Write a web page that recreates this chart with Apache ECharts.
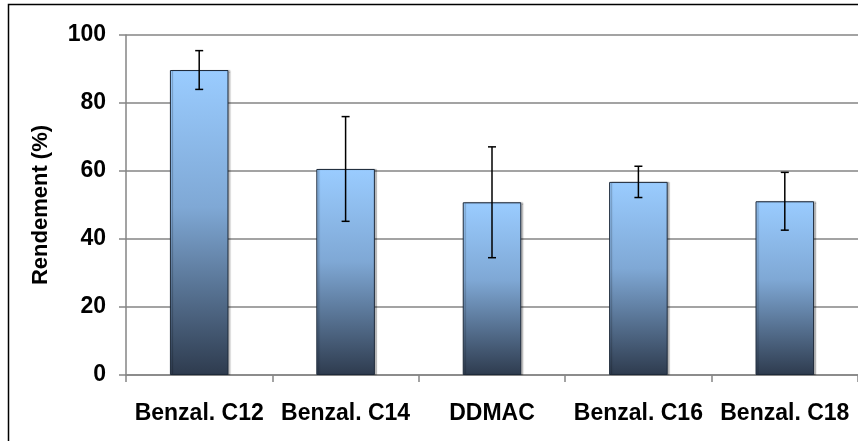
<!DOCTYPE html>
<html>
<head>
<meta charset="utf-8">
<script src="https://cdn.jsdelivr.net/npm/echarts@6/dist/echarts.min.js"></script>
<style>
  html, body { margin: 0; padding: 0; background: #fff; }
  #chart { width: 858px; height: 441px; }
</style>
</head>
<body>
<div id="chart"></div>
<script>
// Données
const categories = ['Benzal. C12', 'Benzal. C14', 'DDMAC', 'Benzal. C16', 'Benzal. C18'];
const rendement  = [89.7, 60.6, 50.8, 56.8, 51.1];
const ecart      = [5.7, 15.4, 16.3, 4.6, 8.5];
const yTicks     = [0, 20, 40, 60, 80, 100];

const FONT = '"Liberation Sans", Arial, sans-serif';
const GREY = '#858585';

const chart = echarts.init(document.getElementById('chart'), null, { renderer: 'canvas' });

// barres d'erreur : ligne verticale + deux chapeaux
function renderErrorBar(params, api) {
  const idx  = api.value(0);
  const top  = api.coord([idx, api.value(1) + api.value(2)]);
  const bot  = api.coord([idx, api.value(1) - api.value(2)]);
  const half = 4;
  const style = { stroke: '#000', lineWidth: 1.5 };
  return {
    type: 'group',
    children: [
      { type: 'line', shape: { x1: top[0], y1: top[1], x2: bot[0], y2: bot[1] }, style },
      { type: 'line', shape: { x1: top[0] - half, y1: top[1], x2: top[0] + half, y2: top[1] }, style },
      { type: 'line', shape: { x1: bot[0] - half, y1: bot[1], x2: bot[0] + half, y2: bot[1] }, style },
    ],
  };
}

chart.setOption({
  backgroundColor: '#fff',
  animation: false,
  textStyle: { fontFamily: FONT },
  graphic: [{
    type: 'rect',
    shape: { x: 8.5, y: 4.5, width: 900, height: 500 },
    style: { fill: 'none', stroke: '#000', lineWidth: 1.5 },
    silent: true,
  }],
  grid: { left: 126, top: 35, width: 733.5, bottom: 66 },
  xAxis: {
    type: 'category',
    data: categories,
    axisLine: { lineStyle: { color: GREY, width: 1.5 } },
    axisTick: { show: true, length: 7, lineStyle: { color: GREY, width: 1.5 } },
    axisLabel: {
      color: '#000', fontSize: 23, fontWeight: 'bold', fontFamily: FONT,
      margin: 27, interval: 0,
    },
  },
  yAxis: {
    type: 'value',
    min: 0, max: yTicks[yTicks.length - 1], interval: 20,
    name: 'Rendement (%)',
    nameLocation: 'middle',
    nameGap: 74,
    nameTextStyle: { color: '#000', fontSize: 22, fontWeight: 'bold', fontFamily: FONT },
    axisLine: { show: true, lineStyle: { color: GREY, width: 1.5 } },
    axisTick: { show: true, length: 7, lineStyle: { color: GREY, width: 1.5 } },
    axisLabel: {
      color: '#000', fontSize: 23, fontWeight: 'bold', fontFamily: FONT, margin: 20,
    },
    splitLine: { show: true, lineStyle: { color: GREY, width: 1.5 } },
  },
  series: [
    {
      type: 'bar',
      data: rendement,
      barWidth: '40%',
      itemStyle: {
        borderColor: '#1E2A3A',
        borderWidth: 1,
        shadowColor: 'rgba(0,0,0,0.25)',
        shadowOffsetX: 2,
        shadowBlur: 1,
        color: {
          type: 'linear', x: 0, y: 0, x2: 0, y2: 1,
          colorStops: [
            { offset: 0, color: '#9ACCFF' },
            { offset: 0.45, color: '#7FA8D5' },
            { offset: 1, color: '#2E3B4E' },
          ],
        },
      },
      emphasis: { disabled: true },
    },
    {
      type: 'custom',
      renderItem: renderErrorBar,
      data: rendement.map((v, i) => [i, v, ecart[i]]),
      encode: { x: 0, y: [1] },
      z: 10,
    },
  ],
});
</script>
</body>
</html>
